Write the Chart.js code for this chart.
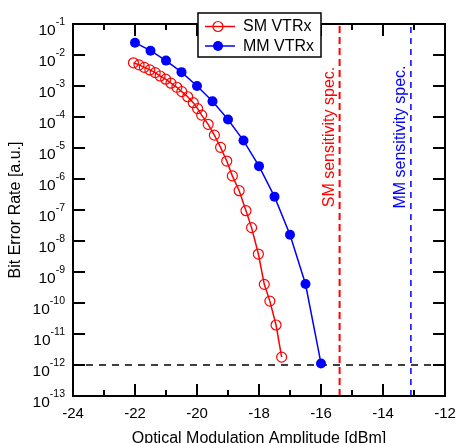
<!DOCTYPE html>
<html>
<head>
<meta charset="utf-8">
<script src="https://cdn.jsdelivr.net/npm/chart.js@4/dist/chart.umd.min.js"></script>
<style>
html,body{margin:0;padding:0;background:#fff;}
#wrap{width:456px;height:443px;position:relative;}
</style>
</head>
<body>
<div id="wrap"><canvas id="c" width="456" height="443"></canvas></div>
<script>
// ---- data ----
const smX = [-22.05,-21.87,-21.70,-21.52,-21.35,-21.19,-21.01,-20.84,-20.65,-20.49,-20.30,-20.12,-19.98,-19.85,-19.64,-19.44,-19.24,-19.04,-18.86,-18.64,-18.42,-18.24,-18.02,-17.83,-17.65,-17.45,-17.27];
const smY = [5.6e-3,4.8e-3,4.0e-3,3.3e-3,2.7e-3,2.1e-3,1.66e-3,1.23e-3,9.1e-4,6.6e-4,4.5e-4,2.9e-4,1.86e-4,1.15e-4,5.8e-5,2.6e-5,1.05e-5,3.8e-6,1.26e-6,4.2e-7,9.5e-8,2.7e-8,3.8e-9,4.0e-10,1.15e-10,1.95e-11,1.8e-12];
const mmX = [-22.0,-21.5,-21.0,-20.5,-20.0,-19.5,-19.0,-18.5,-18.0,-17.5,-17.0,-16.5,-16.0];
const mmY = [2.5e-2,1.38e-2,6.6e-3,2.8e-3,1.0e-3,3.2e-4,8.3e-5,1.74e-5,2.6e-6,2.7e-7,1.6e-8,4.1e-10,1.12e-12];
const smSpec = -15.4;
const mmSpec = -13.1;
const berLimit = 1e-12;
const xMin = -24, xMax = -12;
const yMin = 1e-13, yMax = 1e-1;
const xMajorTicks = [-24,-22,-20,-18,-16,-14,-12];
const xMinorTicks = [-23,-21,-19,-17,-15,-13];
const yTickExps = [-1,-2,-3,-4,-5,-6,-7,-8,-9,-10,-11,-12,-13];
const seriesNames = ['SM VTRx','MM VTRx'];
const specLabels = ['SM sensitivity spec.','MM sensitivity spec.'];
const xTitle = 'Optical Modulation Amplitude [dBm]';
const yTitle = 'Bit Error Rate [a.u.]';

const FONT = '"Liberation Sans", Arial, sans-serif';
const RED = '#ff0000', BLUE = '#0000ff';

const pts = (xs, ys) => xs.map((x,i)=>({x, y: ys[i]}));

const decor = {
  id: 'decor',
  afterDraw(chart) {
    const ctx = chart.ctx;
    const ca = chart.chartArea;
    const xs = chart.scales.x, ys = chart.scales.y;
    ctx.save();
    ctx.strokeStyle = '#000';
    ctx.lineWidth = 2;
    ctx.strokeRect(ca.left, ca.top, ca.right - ca.left, ca.bottom - ca.top);
    // ticks
    ctx.lineWidth = 2;
    ctx.beginPath();
    xMajorTicks.forEach(v => {
      const p = Math.round(xs.getPixelForValue(v));
      ctx.moveTo(p, ca.bottom); ctx.lineTo(p, ca.bottom - 12);
      ctx.moveTo(p, ca.top); ctx.lineTo(p, ca.top + 12);
    });
    xMinorTicks.forEach(v => {
      const p = Math.round(xs.getPixelForValue(v));
      ctx.moveTo(p, ca.bottom); ctx.lineTo(p, ca.bottom - 6);
      ctx.moveTo(p, ca.top); ctx.lineTo(p, ca.top + 6);
    });
    yTickExps.forEach(e => {
      const p = Math.round(ys.getPixelForValue(Math.pow(10, e)));
      ctx.moveTo(ca.left, p); ctx.lineTo(ca.left + 12, p);
      ctx.moveTo(ca.right, p); ctx.lineTo(ca.right - 12, p);
    });
    ctx.stroke();
    // x tick labels
    ctx.fillStyle = '#000';
    ctx.font = '15px ' + FONT;
    ctx.textAlign = 'center';
    ctx.textBaseline = 'alphabetic';
    xMajorTicks.forEach(v => {
      ctx.fillText(String(v), xs.getPixelForValue(v), ca.bottom + 22);
    });
    // y tick labels with superscripts
    yTickExps.forEach(e => {
      const p = ys.getPixelForValue(Math.pow(10, e));
      ctx.font = '10.5px ' + FONT;
      ctx.textAlign = 'right';
      const es = String(e);
      const ew = ctx.measureText(es).width;
      const right = ca.left - 8;
      ctx.fillText(es, right, p + 0.5);
      ctx.font = '15.5px ' + FONT;
      ctx.fillText('10', right - ew, p + 10.5);
    });
    // axis titles
    ctx.font = '16px ' + FONT;
    ctx.textAlign = 'center';
    ctx.fillText(xTitle, (ca.left + ca.right) / 2, ca.bottom + 47);
    ctx.save();
    ctx.translate(16, (ca.top + ca.bottom) / 2);
    ctx.rotate(-Math.PI / 2);
    ctx.font = '16px ' + FONT;
    ctx.textBaseline = 'middle';
    ctx.fillText(yTitle, 0, 0);
    ctx.restore();
    // spec labels
    [[smSpec, RED, specLabels[0]], [mmSpec, BLUE, specLabels[1]]].forEach(([v, col, t]) => {
      ctx.save();
      ctx.translate(xs.getPixelForValue(v) - 10, ca.top + 113);
      ctx.rotate(-Math.PI / 2);
      ctx.fillStyle = col;
      ctx.font = '16px ' + FONT;
      ctx.textAlign = 'center';
      ctx.textBaseline = 'middle';
      ctx.fillText(t, 0, 0);
      ctx.restore();
    });
    // legend
    const lx = 198, ly = 13, lw = 123, lh = 44;
    ctx.fillStyle = '#fff';
    ctx.fillRect(lx, ly, lw, lh);
    ctx.lineWidth = 1.5;
    ctx.strokeStyle = '#000';
    ctx.strokeRect(lx, ly, lw, lh);
    const rows = [[RED, false, seriesNames[0], 26.5], [BLUE, true, seriesNames[1], 46]];
    rows.forEach(([col, filled, name, y]) => {
      ctx.strokeStyle = col;
      ctx.lineWidth = 1.5;
      ctx.beginPath(); ctx.moveTo(205, y); ctx.lineTo(235, y); ctx.stroke();
      ctx.beginPath(); ctx.arc(218, y, 5, 0, Math.PI * 2);
      if (filled) { ctx.fillStyle = col; ctx.fill(); } else { ctx.lineWidth = 1.2; ctx.stroke(); }
      ctx.fillStyle = '#000';
      ctx.font = '16px ' + FONT;
      ctx.textAlign = 'left';
      ctx.textBaseline = 'middle';
      ctx.fillText(name, 243, y + 0.5);
    });
    ctx.restore();
  }
};

new Chart(document.getElementById('c'), {
  type: 'scatter',
  data: {
    datasets: [
      { label: seriesNames[0], data: pts(smX, smY), showLine: true, borderColor: RED, borderWidth: 1.5,
        pointRadius: 5, pointBorderWidth: 1.2, pointBorderColor: RED, pointBackgroundColor: 'rgba(0,0,0,0)',
        tension: 0, order: 1 },
      { label: seriesNames[1], data: pts(mmX, mmY), showLine: true, borderColor: BLUE, borderWidth: 1.5,
        pointRadius: 5, pointBorderWidth: 0, pointBackgroundColor: BLUE, pointBorderColor: BLUE,
        tension: 0, order: 0 },
      { label: 'limit', data: [{x: xMin, y: berLimit}, {x: xMax, y: berLimit}], showLine: true,
        borderColor: '#000', borderWidth: 1.5, borderDash: [7, 6], pointRadius: 0, order: 3 },
      { label: 'smspec', data: [{x: smSpec, y: yMin}, {x: smSpec, y: yMax}], showLine: true,
        borderColor: RED, borderWidth: 2, borderDash: [7, 4], pointRadius: 0, order: 3 },
      { label: 'mmspec', data: [{x: mmSpec, y: yMin}, {x: mmSpec, y: yMax}], showLine: true,
        borderColor: BLUE, borderWidth: 1.5, borderDash: [6, 5], pointRadius: 0, order: 3 }
    ]
  },
  options: {
    responsive: false,
    animation: false,
    layout: { padding: { left: 0, top: 24, right: 11, bottom: 0 } },
    plugins: { legend: { display: false }, tooltip: { enabled: false } },
    scales: {
      x: {
        type: 'linear', min: xMin, max: xMax,
        grid: { display: false }, border: { display: false },
        ticks: { display: false },
        afterFit(s) { s.height = 47; }
      },
      y: {
        type: 'logarithmic', min: yMin, max: yMax,
        grid: { display: false }, border: { display: false },
        ticks: { display: false },
        afterFit(s) { s.width = 73; }
      }
    }
  },
  plugins: [decor]
});
</script>
</body>
</html>
